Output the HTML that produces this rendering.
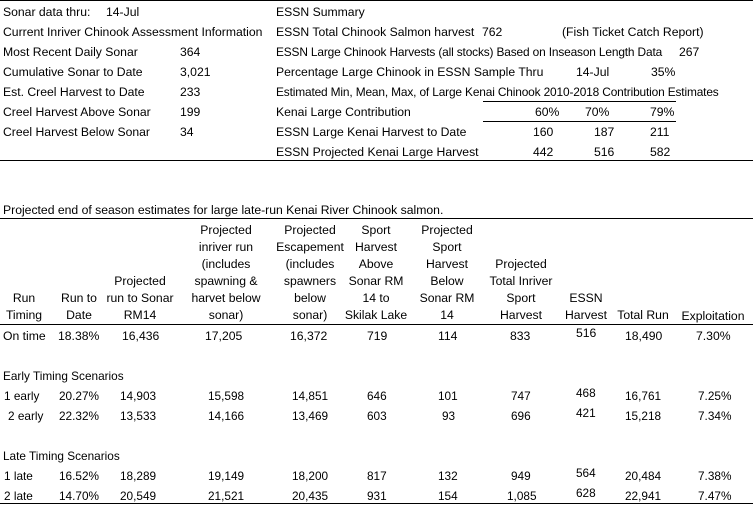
<!DOCTYPE html>
<html><head><meta charset="utf-8"><style>
body{margin:0;background:#fff;}
#c{position:relative;width:753px;height:506px;overflow:hidden;background:#fff;font-family:"Liberation Sans",sans-serif;font-size:12.2px;color:#000;}
#c span{position:absolute;white-space:nowrap;line-height:14px;transform:translateY(-7px);}
.ctr{text-align:center;width:100px;margin-left:-50px;}
.hl{position:absolute;height:1px;background:#000;}
.s{font-size:11.8px;}
.t{letter-spacing:-0.15px;}
</style></head><body><div id="c">
<div class="hl" style="left:0;width:753px;top:0"></div>
<div class="hl" style="left:0;width:753px;top:160px"></div>
<div class="hl" style="left:0;width:753px;top:218px"></div>
<div class="hl" style="left:0;width:753px;top:324px"></div>
<div class="hl" style="left:0;width:753px;top:503px"></div>
<div class="hl" style="left:483px;width:193px;top:101px"></div>
<div class="hl" style="left:483px;width:193px;top:121px"></div>

<span style="left:3px;top:12px">Sonar data thru:</span><span style="left:106px;top:12px">14-Jul</span>
<span style="left:3px;top:32px">Current Inriver Chinook Assessment Information</span>
<span style="left:3px;top:52px">Most Recent Daily Sonar</span><span style="left:180px;top:52px">364</span>
<span style="left:3px;top:72px">Cumulative Sonar to Date</span><span style="left:180px;top:72px">3,021</span>
<span style="left:3px;top:92px">Est. Creel Harvest to Date</span><span style="left:180px;top:92px">233</span>
<span style="left:3px;top:112px">Creel Harvest Above Sonar</span><span style="left:180px;top:112px">199</span>
<span style="left:3px;top:132px">Creel Harvest Below Sonar</span><span style="left:180px;top:132px">34</span>

<span style="left:276px;top:12px">ESSN Summary</span>
<span style="left:276px;top:32px">ESSN Total Chinook Salmon harvest</span><span style="left:482px;top:32px">762</span><span style="left:562px;top:32px">(Fish Ticket Catch Report)</span>
<span class="t" style="left:276px;top:52px;font-size:11.9px">ESSN Large Chinook Harvests (all stocks) Based on Inseason Length Data</span><span style="left:679px;top:52px">267</span>
<span style="left:276px;top:72px">Percentage Large Chinook in ESSN Sample Thru</span><span style="left:576px;top:72px">14-Jul</span><span style="left:651px;top:72px">35%</span>
<span class="t" style="left:276px;top:92px;font-size:11.9px">Estimated Min, Mean, Max, of Large Kenai Chinook 2010-2018 Contribution Estimates</span>
<span style="left:276px;top:112px">Kenai Large Contribution</span><span style="left:535px;top:112px">60%</span><span style="left:585px;top:112px">70%</span><span style="left:650px;top:112px">79%</span>
<span style="left:276px;top:132px">ESSN Large Kenai Harvest to Date</span><span style="left:533px;top:132px">160</span><span style="left:594px;top:132px">187</span><span style="left:650px;top:132px">211</span>
<span style="left:276px;top:152px">ESSN Projected Kenai Large Harvest</span><span style="left:533px;top:152px">442</span><span style="left:594px;top:152px">516</span><span style="left:650px;top:152px">582</span>

<span style="left:3px;top:210px">Projected end of season estimates for large late-run Kenai River Chinook salmon.</span>

<span class="ctr" style="left:24px;top:298px">Run</span><span class="ctr" style="left:24px;top:315px">Timing</span>
<span class="ctr" style="left:79px;top:298px">Run to</span><span class="ctr" style="left:79px;top:315px">Date</span>
<span class="ctr" style="left:140px;top:281px">Projected</span><span class="ctr" style="left:140px;top:298px">run to Sonar</span><span class="ctr" style="left:140px;top:315px">RM14</span>
<span class="ctr" style="left:226px;top:230px">Projected</span><span class="ctr" style="left:226px;top:247px">inriver run</span><span class="ctr" style="left:226px;top:264px">(includes</span><span class="ctr" style="left:226px;top:281px">spawning &amp;</span><span class="ctr" style="left:226px;top:298px">harvet below</span><span class="ctr" style="left:226px;top:315px">sonar)</span>
<span class="ctr" style="left:310px;top:230px">Projected</span><span class="ctr" style="left:310px;top:247px">Escapement</span><span class="ctr" style="left:310px;top:264px">(includes</span><span class="ctr" style="left:310px;top:281px">spawners</span><span class="ctr" style="left:310px;top:298px">below</span><span class="ctr" style="left:310px;top:315px">sonar)</span>
<span class="ctr" style="left:376px;top:230px">Sport</span><span class="ctr" style="left:376px;top:247px">Harvest</span><span class="ctr" style="left:376px;top:264px">Above</span><span class="ctr" style="left:376px;top:281px">Sonar RM</span><span class="ctr" style="left:376px;top:298px">14 to</span><span class="ctr" style="left:376px;top:315px">Skilak Lake</span>
<span class="ctr" style="left:447px;top:230px">Projected</span><span class="ctr" style="left:447px;top:247px">Sport</span><span class="ctr" style="left:447px;top:264px">Harvest</span><span class="ctr" style="left:447px;top:281px">Below</span><span class="ctr" style="left:447px;top:298px">Sonar RM</span><span class="ctr" style="left:447px;top:315px">14</span>
<span class="ctr" style="left:521px;top:264px">Projected</span><span class="ctr" style="left:521px;top:281px">Total Inriver</span><span class="ctr" style="left:521px;top:298px">Sport</span><span class="ctr" style="left:521px;top:315px">Harvest</span>
<span class="ctr" style="left:586px;top:298px">ESSN</span><span class="ctr" style="left:586px;top:315px">Harvest</span>
<span class="ctr" style="left:643px;top:315px">Total Run</span>
<span class="ctr" style="left:713px;top:316px">Exploitation</span>

<span style="left:3px;top:336px">On time</span><span style="left:58px;top:336px">18.38%</span><span style="left:122px;top:336px">16,436</span><span style="left:205px;top:336px">17,205</span><span style="left:290px;top:336px">16,372</span><span style="left:367px;top:336px">719</span><span style="left:438px;top:336px">114</span><span style="left:510px;top:336px">833</span><span style="left:576px;top:333px">516</span><span style="left:625px;top:336px">18,490</span><span style="left:696px;top:336px">7.30%</span>

<span class="s" style="left:3px;top:376px">Early Timing Scenarios</span>
<span class="s" style="left:4px;top:396px">1 early</span><span class="s" style="left:59px;top:396px">20.27%</span><span class="s" style="left:120px;top:396px">14,903</span><span class="s" style="left:208px;top:396px">15,598</span><span class="s" style="left:292px;top:396px">14,851</span><span class="s" style="left:367px;top:396px">646</span><span class="s" style="left:438px;top:396px">101</span><span class="s" style="left:511px;top:396px">747</span><span class="s" style="left:576px;top:393px">468</span><span class="s" style="left:625px;top:396px">16,761</span><span class="s" style="left:698px;top:396px">7.25%</span>
<span class="s" style="left:8px;top:416px">2 early</span><span class="s" style="left:59px;top:416px">22.32%</span><span class="s" style="left:120px;top:416px">13,533</span><span class="s" style="left:208px;top:416px">14,166</span><span class="s" style="left:292px;top:416px">13,469</span><span class="s" style="left:367px;top:416px">603</span><span class="s" style="left:442px;top:416px">93</span><span class="s" style="left:511px;top:416px">696</span><span class="s" style="left:576px;top:413px">421</span><span class="s" style="left:625px;top:416px">15,218</span><span class="s" style="left:698px;top:416px">7.34%</span>
<span class="s" style="left:3px;top:456px">Late Timing Scenarios</span>
<span class="s" style="left:4px;top:476px">1 late</span><span class="s" style="left:59px;top:476px">16.52%</span><span class="s" style="left:120px;top:476px">18,289</span><span class="s" style="left:208px;top:476px">19,149</span><span class="s" style="left:292px;top:476px">18,200</span><span class="s" style="left:367px;top:476px">817</span><span class="s" style="left:438px;top:476px">132</span><span class="s" style="left:511px;top:476px">949</span><span class="s" style="left:576px;top:473px">564</span><span class="s" style="left:625px;top:476px">20,484</span><span class="s" style="left:698px;top:476px">7.38%</span>
<span class="s" style="left:4px;top:496px">2 late</span><span class="s" style="left:59px;top:496px">14.70%</span><span class="s" style="left:120px;top:496px">20,549</span><span class="s" style="left:208px;top:496px">21,521</span><span class="s" style="left:292px;top:496px">20,435</span><span class="s" style="left:367px;top:496px">931</span><span class="s" style="left:438px;top:496px">154</span><span class="s" style="left:507px;top:496px">1,085</span><span class="s" style="left:576px;top:493px">628</span><span class="s" style="left:625px;top:496px">22,941</span><span class="s" style="left:698px;top:496px">7.47%</span>
</div></body></html>
